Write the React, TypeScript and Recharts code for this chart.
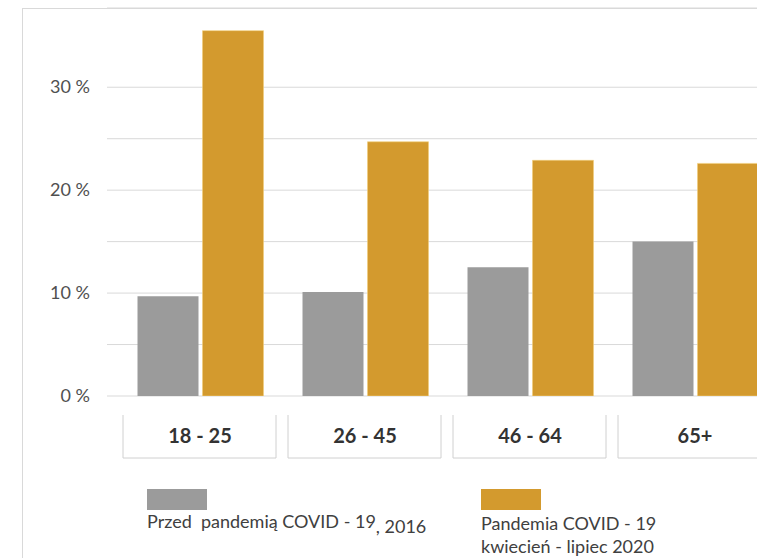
import React from 'react';
import { BarChart, Bar, XAxis, YAxis, CartesianGrid } from 'recharts';

const categories = ['18 - 25', '26 - 45', '46 - 64', '65+'];
const before = [9.7, 10.1, 12.5, 15.0];
const pandemic = [35.5, 24.7, 22.9, 22.6];
const yTicks = [0, 5, 10, 15, 20, 25, 30];
const yLabeled = [0, 10, 20, 30];

const GRAY = '#9b9b9b';
const GOLD = '#d39a2e';
const FONT = 'Lato, "Open Sans", sans-serif';

const data = categories.map((name, i) => ({
  name,
  before: before[i],
  pandemic: pandemic[i]
}));

const CategoryTick = (props: any) => {
  const { x, y, payload } = props;
  const top = y + 19;
  const bottom = y + 62;
  return (
    <g>
      <path
        d={`M${x - 77},${top} L${x - 77},${bottom} L${x + 76},${bottom} L${x + 76},${top}`}
        fill="none"
        stroke="#d0d0d0"
        strokeWidth={1}
      />
      <text
        x={x}
        y={y + 47}
        textAnchor="middle"
        fontFamily={FONT}
        fontWeight={700}
        fontSize={20}
        fill="#333333"
      >
        {payload.value}
      </text>
    </g>
  );
};

const ValueTick = (props: any) => {
  const { x, y, payload } = props;
  if (!yLabeled.includes(payload.value)) return null;
  return (
    <text x={x} y={y + 6} textAnchor="end" fontFamily={FONT} fontSize={18} fill="#505050">
      {`${payload.value} %`}
    </text>
  );
};

const legendText: React.CSSProperties = {
  position: 'absolute',
  fontFamily: FONT,
  fontSize: 18,
  color: '#404040',
  whiteSpace: 'nowrap',
  lineHeight: '23px'
};

export default function App() {
  return (
    <div
      style={{
        position: 'absolute',
        left: 0,
        top: 0,
        width: 757,
        height: 559,
        overflow: 'hidden',
        background: '#ffffff'
      }}
    >
      <div
        style={{
          position: 'absolute',
          left: 22,
          top: 8,
          width: 760,
          height: 549,
          borderTop: '1px solid #d9d9d9',
          borderLeft: '1px solid #d9d9d9'
        }}
      />
      <BarChart
        width={790}
        height={559}
        data={data}
        margin={{ top: 8, right: 12.5, left: 0, bottom: 93 }}
        barSize={61}
        barGap={4}
        style={{ position: 'absolute', left: 0, top: 0 }}
      >
        <CartesianGrid vertical={false} stroke="#d9d9d9" />
        <XAxis
          dataKey="name"
          height={70}
          axisLine={false}
          tickLine={false}
          tickSize={0}
          tickMargin={0}
          padding={{ left: 10.5, right: 0 }}
          tick={<CategoryTick />}
          interval={0}
        />
        <YAxis
          width={107}
          domain={[0, 37.7]}
          ticks={yTicks}
          allowDataOverflow
          axisLine={false}
          tickLine={false}
          tickSize={0}
          tickMargin={17}
          tick={<ValueTick />}
        />
        <Bar dataKey="before" fill={GRAY} isAnimationActive={false} />
        <Bar dataKey="pandemic" fill={GOLD} stroke="#f2cf7a" strokeWidth={0.6} isAnimationActive={false} />
      </BarChart>
      <div style={{ position: 'absolute', left: 147, top: 489, width: 60, height: 21, background: GRAY }} />
      <div style={{ ...legendText, left: 147, top: 510 }}>
        Przed&nbsp; pandemią COVID - 19<span style={{ position: 'relative', top: 5 }}>, 2016</span>
      </div>
      <div style={{ ...legendText, left: 481, top: 489, width: 60, height: 21, background: GOLD }} />
      <div style={{ ...legendText, left: 481, top: 512 }}>
        Pandemia COVID - 19
        <br />
        kwiecień - lipiec 2020
      </div>
    </div>
  );
}
